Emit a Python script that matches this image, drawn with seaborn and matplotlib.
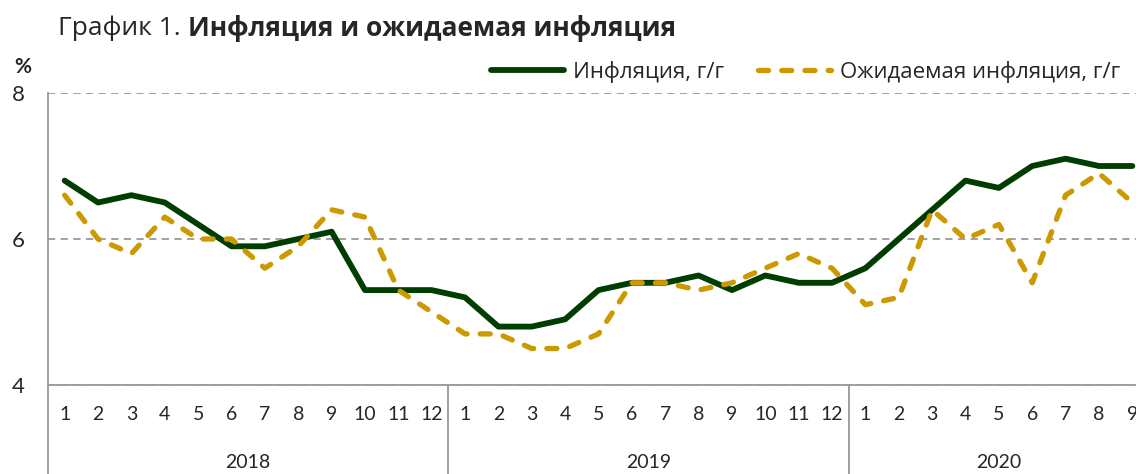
import matplotlib
matplotlib.use("Agg")
import matplotlib.pyplot as plt
import matplotlib.transforms as mtransforms
from matplotlib.lines import Line2D
import seaborn as sns
import pandas as pd

# monthly data, Jan 2018 - Sep 2020
years = ['2018', '2019', '2020']
months_per_year = [12, 12, 9]
month_labels = [str(m) for n in months_per_year for m in range(1, n + 1)]

inflation = [6.8, 6.5, 6.6, 6.5, 6.2, 5.9, 5.9, 6.0, 6.1, 5.3, 5.3, 5.3,
             5.2, 4.8, 4.8, 4.9, 5.3, 5.4, 5.4, 5.5, 5.3, 5.5, 5.4, 5.4,
             5.6, 6.0, 6.4, 6.8, 6.7, 7.0, 7.1, 7.0, 7.0]
expected = [6.6, 6.0, 5.8, 6.3, 6.0, 6.0, 5.6, 5.9, 6.4, 6.3, 5.3, 5.0,
            4.7, 4.7, 4.5, 4.5, 4.7, 5.4, 5.4, 5.3, 5.4, 5.6, 5.8, 5.6,
            5.1, 5.2, 6.4, 6.0, 6.2, 5.4, 6.6, 6.9, 6.5]

series_names = ['Инфляция, г/г', 'Ожидаемая инфляция, г/г']
colors = ['#003d00', '#cc9900']
dash = (1.9, 2.5)

idx = list(range(len(month_labels)))
df = pd.DataFrame({
    'idx': idx * 2,
    'value': inflation + expected,
    'series': [series_names[0]] * len(idx) + [series_names[1]] * len(idx),
})

sns.set_style('white')
plt.rcParams['font.family'] = ['Open Sans', 'DejaVu Sans']

fig = plt.figure(figsize=(11.36, 4.74), dpi=100)
ax = fig.add_axes([48 / 1136, 1 - 385 / 474, 1101 / 1136, 292 / 474])

sns.lineplot(data=df, x='idx', y='value', hue='series', style='series',
             palette=dict(zip(series_names, colors)),
             dashes={series_names[0]: '', series_names[1]: dash},
             linewidth=4.2, legend=False, ax=ax)
for ln in ax.get_lines():
    ln.set_solid_capstyle('round')
    ln.set_solid_joinstyle('round')
    ln.set_dash_capstyle('round')
    ln.set_dash_joinstyle('round')
ax.get_lines()[1].set_linewidth(3.8)

ax.set_xlim(-0.5, len(idx) - 0.5)
ax.set_ylim(4, 8)
ax.set_xlabel('')
ax.set_ylabel('')

grey = '#999999'
for s in ['top', 'right']:
    ax.spines[s].set_visible(False)
for s in ['left', 'bottom']:
    ax.spines[s].set_color(grey)
    ax.spines[s].set_linewidth(1.3)

ax.set_yticks([4, 6, 8])
ax.yaxis.grid(True, color=grey, linestyle=(0, (4, 3)), linewidth=1.3)
ax.tick_params(axis='y', length=5, width=1.3, color=grey, pad=12,
               labelsize=16, labelfontfamily='Lato')

ax.set_xticks(idx)
ax.set_xticklabels(month_labels)
ax.set_xticks([i - 0.5 for i in idx] + [len(idx) - 0.5], minor=True)
ax.tick_params(axis='x', which='major', length=0, pad=15, labelsize=14,
               labelfontfamily='Lato')
ax.tick_params(axis='x', which='minor', length=34, width=1.3, color=grey)

# year separators and labels
trans = mtransforms.blended_transform_factory(ax.transData, ax.transAxes)
start = 0
for year, n in zip(years, months_per_year):
    ax.plot([start - 0.5, start - 0.5], [0, -0.31], transform=trans,
            color=grey, lw=1.3, clip_on=False)
    ax.text(start + (n - 1) / 2, -0.267, year, transform=trans,
            ha='center', va='center', fontsize=14, family='Lato')
    start += n

ax.text(-0.015, 1.09, '%', transform=ax.transAxes, ha='right', va='center',
        fontsize=15, fontweight='bold', family='Lato')

fig.text(58 / 1136, 1 - 28 / 474, 'График 1. ', ha='left', va='center',
         fontsize=19)
t = fig.texts[-1]
fig.canvas.draw()
bb = t.get_window_extent()
fig.text(bb.x1 / 1136, 1 - 28 / 474, 'Инфляция и ожидаемая инфляция',
         ha='left', va='center', fontsize=19, fontweight='bold')

handles = [Line2D([], [], color=colors[0], lw=4.2, solid_capstyle='round'),
           Line2D([], [], color=colors[1], lw=3.8, linestyle=(0, dash),
                  dash_capstyle='round')]
fig.legend(handles, series_names, loc='center right',
           bbox_to_anchor=(1120 / 1136, 1 - 72 / 474), ncol=2, frameon=False,
           fontsize=16, handlelength=3.3, handletextpad=0.4, columnspacing=1.5,
           borderaxespad=0, borderpad=0)

fig.savefig('out.png', dpi=100)
